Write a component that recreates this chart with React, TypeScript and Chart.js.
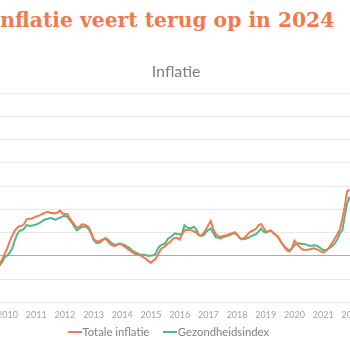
import React, { useEffect, useRef } from "react";
import { Chart, registerables } from "chart.js";

Chart.register(...registerables);

// Monthly categories, September 2009 .. February 2022
const START_YEAR = 2009;
const START_MONTH = 9;
const MONTH_COUNT = 150;

// Year-on-year change (%)
const totaleInflatie: (number | null)[] = [
  -1.0, -0.6, -0.2, 0.26,
  0.7, 1.3, 1.75, 2.15, 2.4, 2.55, 2.6, 2.75, 3.15, 3.2, 3.2, 3.3,
  3.4, 3.45, 3.55, 3.65, 3.75, 3.8, 3.7, 3.7, 3.65, 3.75, 3.9, 3.65,
  3.6, 3.6, 3.25, 2.95, 2.7, 2.45, 2.5, 2.7, 2.7, 2.6, 2.45, 2.0,
  1.45, 1.3, 1.23, 1.35, 1.4, 1.5, 1.25, 1.0, 0.9, 0.85, 0.95, 1.05,
  0.95, 0.8, 0.65, 0.5, 0.35, 0.2, 0.15, 0.1, 0.0, -0.15, -0.25, -0.45,
  -0.6, -0.4, -0.25, 0.15, 0.55, 0.7, 0.85, 1.05, 1.2, 1.45, 1.55, 1.55,
  1.4, 1.9, 2.2, 2.23, 2.23, 2.2, 2.1, 2.0, 1.75, 1.75, 1.95, 2.3,
  2.65, 3.0, 2.3, 1.9, 1.7, 1.65, 1.7, 1.75, 1.8, 1.9, 1.95, 2.05,
  1.85, 1.55, 1.43, 1.55, 1.75, 2.0, 2.15, 2.2, 2.35, 2.65, 2.75, 2.45,
  2.1, 2.1, 2.2, 2.0, 1.85, 1.65, 1.3, 1.0, 0.7, 0.45, 0.37, 0.75,
  1.3, 1.05, 0.8, 0.6, 0.5, 0.52, 0.56, 0.6, 0.65, 0.6, 0.5, 0.4,
  0.28, 0.4, 0.6, 0.9, 1.2, 1.55, 1.9, 2.3, 3.2, 4.25, 5.55, 5.7,
  null, null,
];

const gezondheidsindex: (number | null)[] = [
  -1.0, -0.75, -0.45, -0.05,
  0.05, 0.3, 0.65, 1.3, 1.85, 2.15, 2.2, 2.35, 2.65, 2.6, 2.6, 2.65,
  2.7, 2.8, 2.9, 3.05, 3.15, 3.2, 3.25, 3.2, 3.1, 3.2, 3.3, 3.4,
  3.46, 3.35, 3.1, 2.85, 2.5, 2.2, 2.35, 2.5, 2.5, 2.5, 2.3, 1.9,
  1.4, 1.15, 1.1, 1.2, 1.4, 1.55, 1.4, 1.2, 1.05, 0.95, 1.0, 1.07,
  1.0, 0.95, 0.8, 0.7, 0.5, 0.35, 0.25, 0.15, 0.12, 0.1, 0.05, 0.0,
  0.03, 0.05, 0.2, 0.7, 0.9, 1.0, 1.1, 1.45, 1.6, 1.75, 1.94, 1.88,
  1.86, 1.9, 2.65, 2.45, 2.4, 2.4, 2.5, 2.25, 1.8, 1.74, 1.78, 2.05,
  2.25, 2.35, 2.0, 1.62, 1.55, 1.5, 1.6, 1.66, 1.72, 1.8, 1.9, 1.94,
  1.8, 1.6, 1.43, 1.45, 1.5, 1.6, 1.7, 1.8, 1.9, 2.1, 2.35, 2.1,
  2.0, 2.1, 2.2, 2.0, 1.85, 1.65, 1.35, 1.0, 0.78, 0.6, 0.46, 0.65,
  0.92, 1.05, 1.08, 1.03, 1.03, 0.97, 0.88, 0.88, 0.92, 0.9, 0.8, 0.65,
  0.5, 0.5, 0.58, 0.72, 0.92, 1.12, 1.45, 1.97, 2.2, 3.4, 4.5, 5.1,
  null, null,
];

const SERIES_NAMES = ["Totale inflatie", "Gezondheidsindex"];

const Y_MIN = -4;
const Y_MAX = 14;
const Y_STEP = 2;

const monthLabels: string[] = [];
for (let i = 0; i < MONTH_COUNT; i++) {
  const total = START_MONTH - 1 + i;
  const y = START_YEAR + Math.floor(total / 12);
  const m = (total % 12) + 1;
  monthLabels.push(`${y}-${String(m).padStart(2, "0")}`);
}

const ORANGE = "#f27a4c";
const GREEN = "#4db98c";
const COLORS = [ORANGE, GREEN];
const FONT = "Lato";

export default function App() {
  const ref = useRef<HTMLCanvasElement | null>(null);

  useEffect(() => {
    if (!ref.current) return;
    const chart = new Chart(ref.current, {
      type: "line",
      data: {
        labels: monthLabels,
        datasets: [
          {
            label: SERIES_NAMES[0],
            data: totaleInflatie,
            borderColor: ORANGE,
            backgroundColor: ORANGE,
            borderWidth: 2,
            pointRadius: 0,
            tension: 0,
          },
          {
            label: SERIES_NAMES[1],
            data: gezondheidsindex,
            borderColor: GREEN,
            backgroundColor: GREEN,
            borderWidth: 2,
            pointRadius: 0,
            tension: 0,
          },
        ],
      },
      options: {
        responsive: false,
        animation: false,
        devicePixelRatio: 1,
        layout: { padding: { left: 37.9, right: 19.7, top: 0, bottom: 0 } },
        plugins: {
          tooltip: { enabled: false },
          title: {
            display: true,
            text: "Inflatie",
            color: "#808080",
            font: { family: FONT, size: 16, weight: "normal" },
            padding: { top: 7, bottom: 12 },
          },
          legend: { display: false },
        },
        scales: {
          x: {
            grid: { display: false, drawTicks: false },
            border: { display: false },
            ticks: {
              autoSkip: false,
              maxRotation: 0,
              minRotation: 0,
              padding: 6.9,
              color: "#a3a3a3",
              font: { family: FONT, size: 9 },
              callback: (_v: any, i: number) =>
                monthLabels[i].endsWith("-01") ? monthLabels[i].slice(0, 4) : "",
            },
          },
          y: {
            min: Y_MIN,
            max: Y_MAX,
            border: { display: false },
            grid: {
              drawTicks: false,
              color: (c: any) => (c.tick && c.tick.value === 0 ? "#bda59e" : "#e8e8e8"),
            },
            ticks: { display: false, stepSize: Y_STEP },
          },
        },
      },
    });
    return () => chart.destroy();
  }, []);

  return (
    <div
      style={{
        position: "fixed",
        left: 0,
        top: 0,
        width: 350,
        height: 350,
        overflow: "hidden",
        background: "#ffffff",
      }}
    >
      <div
        style={{
          position: "absolute",
          left: -9.2,
          top: 10,
          whiteSpace: "nowrap",
          fontFamily: "'DejaVu Serif', serif",
          fontWeight: "bold",
          fontSize: 20.3,
          lineHeight: "20px",
          color: "#f07a4d",
        }}
      >
        Inflatie veert terug op in 2024
      </div>
      <div style={{ position: "absolute", left: -40, top: 55, width: 414, height: 272 }}>
        <canvas ref={ref} width={414} height={272} style={{ display: "block" }} />
      </div>
      <div
        style={{
          position: "absolute",
          left: 68,
          top: 325,
          height: 14,
          display: "flex",
          alignItems: "center",
          whiteSpace: "nowrap",
          fontFamily: FONT,
          fontSize: 11.3,
          lineHeight: "14px",
          color: "#808080",
        }}
      >
        {SERIES_NAMES.map((name, i) => (
          <span
            key={name}
            style={{ display: "flex", alignItems: "center", marginLeft: i === 0 ? 0 : 14 }}
          >
            <span
              style={{
                display: "inline-block",
                width: 14,
                height: 2,
                background: COLORS[i],
                marginRight: 0.5,
              }}
            />
            <span>{name}</span>
          </span>
        ))}
      </div>
    </div>
  );
}
